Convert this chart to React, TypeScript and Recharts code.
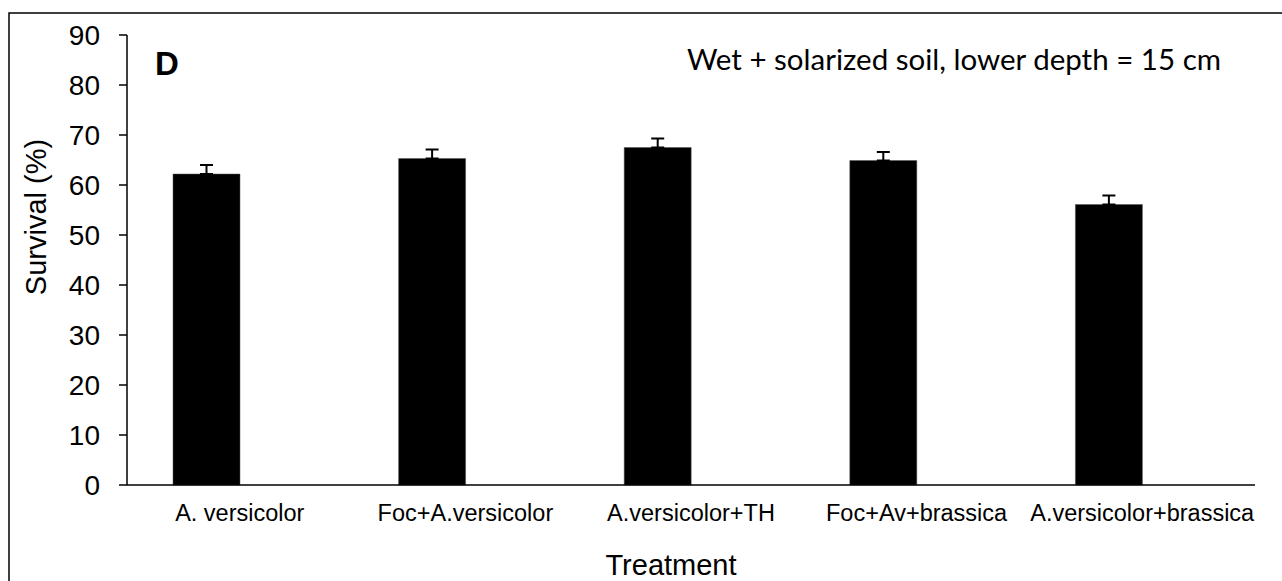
import { BarChart, Bar, XAxis, YAxis, ErrorBar } from "recharts";

const categories = [
  "A. versicolor",
  "Foc+A.versicolor",
  "A.versicolor+TH",
  "Foc+Av+brassica",
  "A.versicolor+brassica",
];
const survival = [62.2, 65.3, 67.5, 64.9, 56.1];
const errors = [1.8, 1.8, 1.8, 1.7, 1.8];
const yTicks = [0, 10, 20, 30, 40, 50, 60, 70, 80, 90];
const edgeTicks = [0, 1, 2, 3, 4, 5];

const data = categories.map((name, i) => ({
  name,
  survival: survival[i],
  err: [0, errors[i]],
}));

const FONT = "'Liberation Sans', Arial, sans-serif";

function App() {
  return (
    <div
      style={{
        position: "fixed",
        left: 0,
        top: 0,
        width: 1282,
        height: 581,
        background: "#fff",
      }}
    >
      <BarChart
        width={1282}
        height={581}
        data={data}
        margin={{ top: 35, right: 27, bottom: 0, left: 7 }}
        barGap={0}
      >
        <XAxis
          xAxisId="axis"
          type="number"
          domain={[0, 5]}
          ticks={edgeTicks}
          allowDataOverflow
          height={1}
          tick={false}
          tickSize={8}
          axisLine={{ stroke: "#000", strokeWidth: 1.5 }}
          tickLine={{ stroke: "#808080", strokeWidth: 1.5 }}
        />
        <XAxis
          xAxisId="labels"
          dataKey="name"
          height={95}
          axisLine={false}
          tickLine={false}
          tickSize={8}
          tickMargin={10}
          interval={0}
          tick={{ fill: "#000", fontSize: 23.5, fontFamily: FONT }}
        />
        <YAxis
          width={120}
          domain={[0, 90]}
          ticks={yTicks}
          interval={0}
          tickSize={8}
          tickMargin={19}
          axisLine={{ stroke: "#000", strokeWidth: 1.5 }}
          tickLine={{ stroke: "#000", strokeWidth: 1.5 }}
          tick={{ fill: "#000", fontSize: 28, fontFamily: FONT }}
        />
        <Bar
          xAxisId="labels"
          dataKey="survival"
          fill="#000"
          stroke="#555"
          strokeWidth={0.5}
          barSize={67}
          isAnimationActive={false}
        >
          <ErrorBar
            dataKey="err"
            direction="y"
            width={6.5}
            stroke="#000"
            strokeWidth={2}
          />
        </Bar>
        <Bar
          xAxisId="labels"
          dataKey="spacer"
          fill="none"
          barSize={67}
          isAnimationActive={false}
        />
      </BarChart>
      <svg
        width={1282}
        height={581}
        style={{ position: "absolute", left: 0, top: 0, pointerEvents: "none" }}
      >
        <path d="M 9 581 V 13 H 1282" fill="none" stroke="#000" strokeWidth={1.5} />
        <text x={155} y={75} fontFamily={FONT} fontWeight="bold" fontSize={33} fill="#000">
          D
        </text>
        <text
          x={1221}
          y={70}
          textAnchor="end"
          fontFamily="Lato, 'Open Sans', sans-serif"
          fontSize={29.5}
          fill="#000"
        >
          Wet + solarized soil, lower depth = 15 cm
        </text>
        <text
          x={46}
          y={217}
          textAnchor="middle"
          transform="rotate(-90 46 217)"
          fontFamily={FONT}
          fontSize={29}
          fill="#000"
        >
          Survival (%)
        </text>
        <text x={671} y={575} textAnchor="middle" fontFamily={FONT} fontSize={29} fill="#000">
          Treatment
        </text>
      </svg>
    </div>
  );
}

export default App;
